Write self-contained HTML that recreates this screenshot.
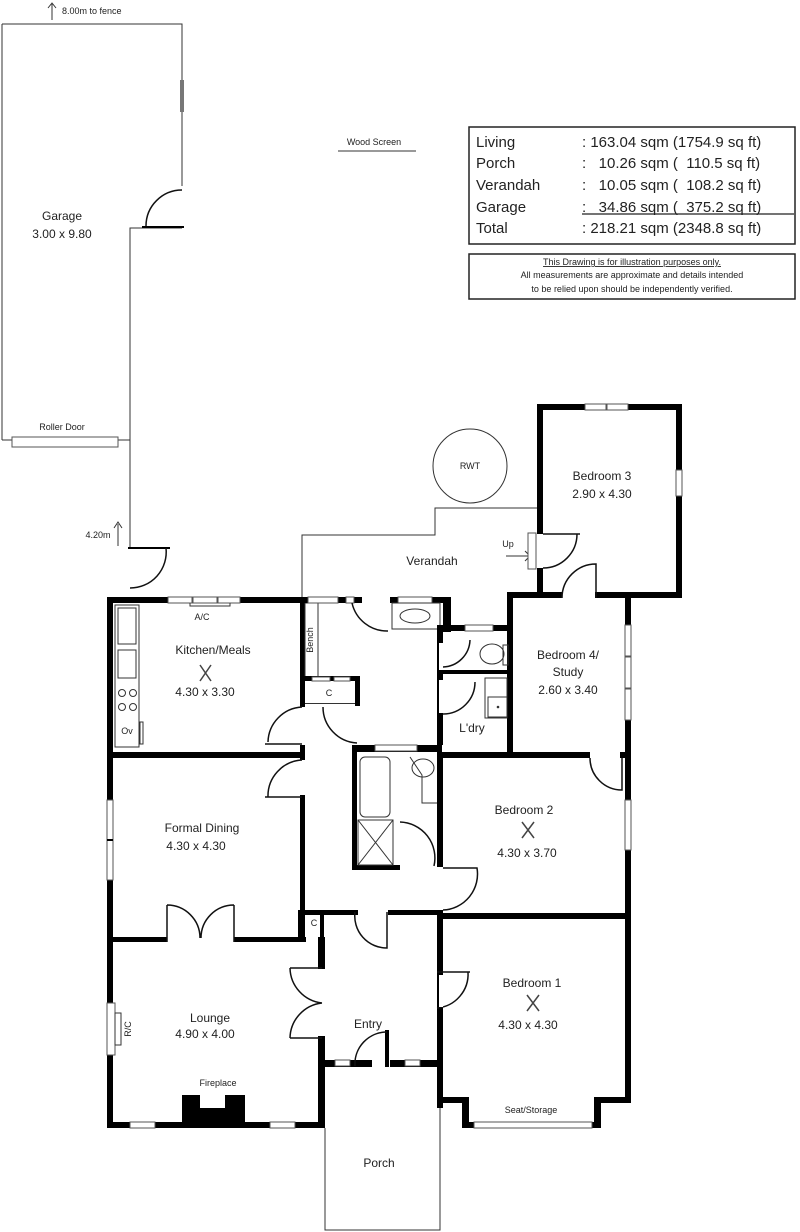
<!DOCTYPE html>
<html><head><meta charset="utf-8"><style>
html,body{margin:0;padding:0;background:#fff}
svg{display:block}
text{font-family:"Liberation Sans",sans-serif;fill:#222;white-space:pre}
.l{font-size:12px;text-anchor:middle}
.s{font-size:9px;text-anchor:middle}
.t{font-size:15px}
.w{fill:#000}
.win{fill:#fff;stroke:#555;stroke-width:1}
.th{fill:none;stroke:#333;stroke-width:1}
.dr{fill:none;stroke:#111;stroke-width:1.5}
</style></head><body>
<svg width="800" height="1232" viewBox="0 0 800 1232" xmlns="http://www.w3.org/2000/svg" xml:space="preserve">
<path d="M52 20 V4 M48 8 L52 3 L56 8" class="th"/>
<text x="62" y="14" style="font-size:9px">8.00m to fence</text>
<path d="M2 24 H182 V186 M182 228 H130 V548 M2 24 V440" class="th"/>
<rect x="180" y="80" width="4" height="32" fill="#777"/>
<path d="M146 226 A36 36 0 0 1 182 190" class="dr"/>
<line x1="142" y1="227" x2="184" y2="227" stroke="#000" stroke-width="2"/>
<path d="M2 440 H12 M118 440 H130" class="th"/>
<rect x="12" y="437" width="106" height="10" class="win"/>
<text x="62" y="430" class="s">Roller Door</text>
<text x="62" y="220" class="l">Garage</text>
<text x="62" y="238" class="l">3.00 x 9.80</text>
<path d="M118 546 V524 M114 528 L118 522 L122 528" class="th"/>
<text x="98" y="538" class="s">4.20m</text>
<line x1="128" y1="548" x2="170" y2="548" stroke="#000" stroke-width="2"/>
<path d="M130 588 A36 36 0 0 0 166 548" class="dr"/>
<text x="374" y="145" class="s">Wood Screen</text>
<line x1="338" y1="151" x2="416" y2="151" class="th"/>
<rect x="469" y="127" width="326" height="117" fill="none" stroke="#222" stroke-width="1.5"/>
<text class="t" x="476" y="147">Living</text><text class="t" x="582" y="147">: 163.04 sqm (1754.9 sq ft)</text>
<text class="t" x="476" y="168">Porch</text><text class="t" x="582" y="168">:   10.26 sqm (  110.5 sq ft)</text>
<text class="t" x="476" y="190">Verandah</text><text class="t" x="582" y="190">:   10.05 sqm (  108.2 sq ft)</text>
<text class="t" x="476" y="212">Garage</text><text class="t" x="582" y="212">:   34.86 sqm (  375.2 sq ft)</text>
<line x1="582" y1="214" x2="794" y2="214" stroke="#222" stroke-width="1.3"/>
<text class="t" x="476" y="233">Total</text><text class="t" x="582" y="233">: 218.21 sqm (2348.8 sq ft)</text>
<rect x="469" y="254" width="326" height="45" fill="none" stroke="#222" stroke-width="1.5"/>
<text x="632" y="265" class="s" text-decoration="underline">This Drawing is for illustration purposes only.</text>
<text x="632" y="278" class="s">All measurements are approximate and details intended</text>
<text x="632" y="292" class="s">to be relied upon should be independently verified.</text>
<circle cx="470" cy="466" r="37" class="th"/>
<text x="470" y="469" class="s">RWT</text>
<path d="M302 597 V535 H435 V508 H540" class="th"/>
<text x="432" y="565" class="l">Verandah</text>
<text x="508" y="547" class="s">Up</text>
<path d="M506 556 H530 M525 551 L530 556 L525 561" class="th"/>
<rect x="528" y="533" width="8" height="36" class="win"/>
<g class="w">
<rect x="537" y="404" width="145" height="6"/>
<rect x="676" y="404" width="6" height="194"/>
<rect x="537" y="404" width="6" height="130"/>
<rect x="537" y="568" width="6" height="30"/>
<rect x="595" y="592" width="87" height="6"/>
<rect x="507" y="592" width="55" height="6"/>
</g>
<rect x="585" y="404" width="21" height="6" class="win"/><rect x="607" y="404" width="21" height="6" class="win"/>
<rect x="676" y="470" width="6" height="26" class="win"/>
<path d="M543 568 A34 34 0 0 0 577 534 M543 534 H580" class="dr"/>
<path d="M562 598 A34 34 0 0 1 596 564 V598" class="dr"/>
<text x="602" y="480" class="l">Bedroom 3</text>
<text x="602" y="498" class="l">2.90 x 4.30</text>
<g class="w">
<rect x="507" y="592" width="6" height="160"/>
<rect x="625" y="592" width="6" height="510"/>
</g>
<rect x="625" y="625" width="6" height="31" class="win"/><rect x="625" y="657" width="6" height="31" class="win"/><rect x="625" y="689" width="6" height="31" class="win"/>
<text x="568" y="659" class="l">Bedroom 4/</text>
<text x="568" y="676" class="l">Study</text>
<text x="568" y="694" class="l">2.60 x 3.40</text>
<g class="w">
<rect x="107" y="597" width="200" height="6"/>
<rect x="107" y="597" width="6" height="531"/>
<rect x="107" y="752" width="198" height="6"/>
<rect x="300" y="597" width="5" height="110"/>
<rect x="300" y="745" width="5" height="15"/>
<rect x="300" y="795" width="5" height="146"/>
</g>
<rect x="168" y="597" width="24" height="6" class="win"/><rect x="193" y="597" width="24" height="6" class="win"/><rect x="218" y="597" width="22" height="6" class="win"/>
<path d="M190 603 V606 H230 V603" class="th"/>
<text x="202" y="620" class="s">A/C</text>
<rect x="115" y="605" width="24" height="142" class="th"/>
<rect x="118" y="608" width="18" height="36" class="th"/>
<rect x="118" y="650" width="18" height="28" class="th"/>
<circle cx="122" cy="693" r="3.5" class="th"/><circle cx="133" cy="693" r="3.5" class="th"/>
<circle cx="122" cy="707" r="3.5" class="th"/><circle cx="133" cy="707" r="3.5" class="th"/>
<text x="127" y="734" class="s">Ov</text>
<rect x="140" y="722" width="3" height="22" class="th"/>
<text x="213" y="654" class="l">Kitchen/Meals</text>
<text x="205" y="696" class="l">4.30 x 3.30</text>
<path d="M200 665 L211 681 M211 665 L200 681" stroke="#444" stroke-width="1.5"/>
<path d="M268 742 A36 36 0 0 1 302 707 M265 744 H302" class="dr"/>
<path d="M268 797 A36 36 0 0 1 302 760 M265 797 H302" class="dr"/>
<rect x="305" y="603" width="13" height="75" class="th"/>
<text x="313" y="640" class="s" transform="rotate(-90 313 640)">Bench</text>
<g class="w">
<rect x="302" y="676" width="58" height="5"/>
<rect x="355" y="676" width="5" height="30"/>
<rect x="302" y="597" width="60" height="6"/>
<rect x="390" y="597" width="60" height="6"/>
<rect x="443" y="597" width="8" height="35"/>
<rect x="443" y="625" width="70" height="6"/>
</g>
<rect x="305" y="703" width="50" height="1" fill="#333"/>
<rect x="308" y="597" width="30" height="6" class="win"/><rect x="346" y="597" width="8" height="6" class="win"/>
<rect x="312" y="677" width="18" height="4" class="win"/><rect x="334" y="677" width="16" height="4" class="win"/>
<text x="329" y="696" class="s">C</text>
<rect x="398" y="597" width="34" height="6" class="win"/>
<rect x="465" y="625" width="28" height="6" class="win"/>
<path d="M352 603 A36 36 0 0 0 388 631" class="dr"/>
<rect x="392" y="603" width="48" height="26" class="th"/>
<ellipse cx="415" cy="616" rx="15" ry="7" class="th"/>
<path d="M323 707 A36 36 0 0 0 357 743" class="dr"/>
<g class="w">
<rect x="437" y="625" width="6" height="120"/>
<rect x="437" y="670" width="75" height="4"/>
</g>
<rect x="439" y="643" width="6" height="27" fill="#fff"/>
<rect x="439" y="680" width="6" height="33" fill="#fff"/>
<path d="M443 667 A28 28 0 0 0 470 640" class="dr"/>
<path d="M443 714 A32 32 0 0 0 475 682" class="dr"/>
<ellipse cx="492" cy="654" rx="12" ry="10" class="th"/>
<rect x="503" y="645" width="5" height="20" class="th"/>
<rect x="485" y="678" width="22" height="40" class="th"/>
<rect x="488" y="697" width="19" height="20" class="th"/>
<circle cx="498" cy="707" r="1.3" fill="#333"/>
<text x="472" y="732" class="l">L'dry</text>
<g class="w">
<rect x="352" y="745" width="90" height="7"/>
<rect x="352" y="745" width="5" height="125"/>
<rect x="352" y="865" width="48" height="5"/>
<rect x="437" y="752" width="194" height="6"/>
<rect x="437" y="752" width="6" height="115"/>
<rect x="437" y="910" width="6" height="195"/>
</g>
<rect x="625" y="800" width="6" height="50" class="win"/>
<rect x="590" y="752" width="30" height="6" fill="#fff"/>
<path d="M590 758 A32 32 0 0 0 622 790 V758" class="dr"/>
<rect x="375" y="745" width="42" height="6" class="win"/>
<rect x="360" y="757" width="30" height="60" rx="5" class="th"/>
<rect x="358" y="820" width="35" height="45" class="th"/>
<path d="M358 820 L393 865 M393 820 L358 865" class="th"/>
<ellipse cx="423" cy="768" rx="11" ry="9" class="th"/>
<path d="M410 757 L422 775 V803 H437" class="th"/>
<path d="M400 822 A36 36 0 0 1 434 866" class="dr"/>
<path d="M443 910 A36 36 0 0 0 477 868 H443" class="dr"/>
<text x="524" y="814" class="l">Bedroom 2</text>
<text x="527" y="857" class="l">4.30 x 3.70</text>
<path d="M522 822 L534 838 M534 822 L522 838" stroke="#444" stroke-width="1.5"/>
<rect x="107" y="800" width="6" height="80" class="win"/>
<line x1="107" y1="840" x2="113" y2="840" stroke="#000" stroke-width="2"/>
<text x="202" y="832" class="l">Formal Dining</text>
<text x="196" y="850" class="l">4.30 x 4.30</text>
<g class="w">
<rect x="107" y="937" width="60" height="5"/>
<rect x="234" y="937" width="72" height="5"/>
<rect x="298" y="910" width="60" height="5"/>
<rect x="388" y="910" width="52" height="5"/>
<rect x="298" y="910" width="3" height="32"/>
<rect x="320" y="910" width="4" height="32"/>
<rect x="318" y="937" width="7" height="32"/>
<rect x="318" y="1036" width="7" height="92"/>
<rect x="107" y="1122" width="218" height="6"/>
<rect x="182" y="1095" width="63" height="33"/>
</g>
<rect x="200" y="1095" width="25" height="13" fill="#fff"/>
<text x="314" y="926" class="s">C</text>
<path d="M167 905 V942 M167 905 A33 33 0 0 1 200 938 M234 905 V942 M234 905 A33 33 0 0 0 201 938" class="dr"/>
<rect x="130" y="1122" width="25" height="6" class="win"/>
<rect x="270" y="1122" width="25" height="6" class="win"/>
<rect x="107" y="1003" width="8" height="52" class="win"/>
<rect x="115" y="1013" width="6" height="32" class="th"/>
<text x="131" y="1029" class="s" transform="rotate(-90 131 1029)">R/C</text>
<text x="210" y="1022" class="l">Lounge</text>
<text x="205" y="1038" class="l">4.90 x 4.00</text>
<text x="218" y="1086" class="s">Fireplace</text>
<path d="M290 968 H322 M290 968 A36 36 0 0 0 322 1003 M290 1038 H322 M290 1038 A36 36 0 0 1 322 1003" class="dr"/>
<path d="M355 912 A32 32 0 0 0 387 948 V912" class="dr"/>
<text x="368" y="1028" class="l">Entry</text>
<g class="w">
<rect x="320" y="1060" width="30" height="7"/>
<rect x="350" y="1060" width="22" height="7"/>
<rect x="390" y="1060" width="48" height="7"/>
<rect x="385" y="1030" width="4" height="37"/>
<rect x="437" y="1060" width="6" height="48"/>
</g>
<rect x="335" y="1060" width="15" height="6" class="win"/>
<rect x="405" y="1060" width="15" height="6" class="win"/>
<path d="M355 1066 A32 32 0 0 1 387 1032" class="dr"/>
<path d="M437 972 H470 M437 1008 A34 34 0 0 0 468 972" class="dr"/>
<rect x="439" y="975" width="4" height="32" fill="#fff"/>
<g class="w">
<rect x="437" y="913" width="194" height="6"/>
<rect x="437" y="1097" width="30" height="6"/>
<rect x="462" y="1097" width="7" height="31"/>
<rect x="462" y="1122" width="138" height="6"/>
<rect x="594" y="1097" width="7" height="31"/>
<rect x="594" y="1097" width="37" height="6"/>
</g>
<rect x="474" y="1122" width="118" height="6" class="win"/>
<text x="531" y="1113" class="s">Seat/Storage</text>
<text x="532" y="987" class="l">Bedroom 1</text>
<text x="528" y="1029" class="l">4.30 x 4.30</text>
<path d="M527 995 L539 1011 M539 995 L527 1011" stroke="#444" stroke-width="1.5"/>
<path d="M325 1128 V1230 H440 V1108" class="th"/>
<text x="379" y="1167" class="l">Porch</text>
</svg>
</body></html>
